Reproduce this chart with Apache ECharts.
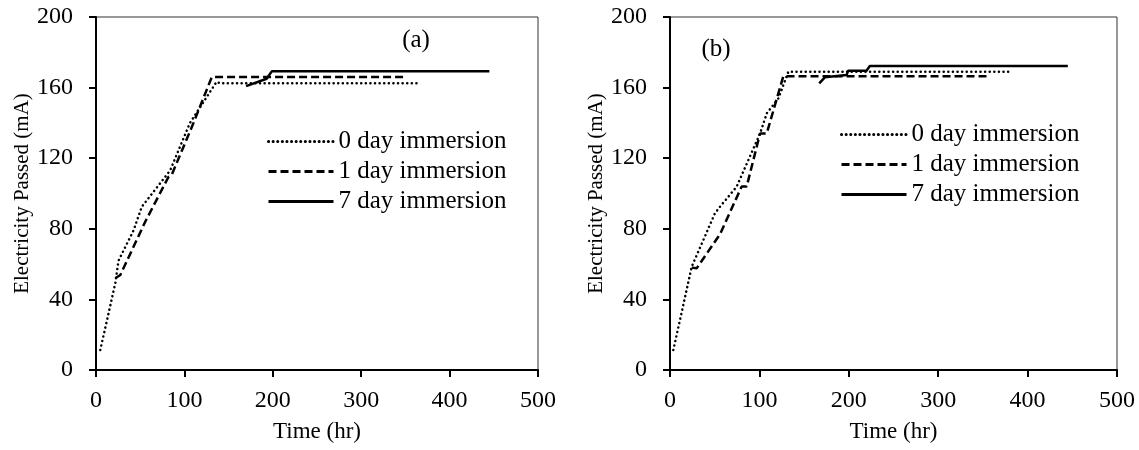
<!DOCTYPE html>
<html>
<head>
<meta charset="utf-8">
<script src="https://cdn.jsdelivr.net/npm/echarts@6/dist/echarts.min.js"></script>
<style>
  html, body { margin: 0; padding: 0; background: #fff; }
  #main { width: 1139px; height: 450px; }
</style>
</head>
<body>
<div id="main"></div>
<script>
// series names
const names = ["0 day immersion", "1 day immersion", "7 day immersion"];
// panel (a): [time (hr), electricity passed (mA)]
const aDay0 = [[4.8, 11.3], [21.8, 49], [25.5, 62], [42.4, 79], [51.8, 92.5], [83.8, 113], [106.3, 140], [136.4, 163.3], [140, 162.5], [366, 162.5]];
const aDay1 = [[21.8, 52], [27.5, 53.8], [55.7, 84], [82, 109.4], [86, 111], [110, 139.6], [131, 166], [351, 166]];
const aDay7 = [[169.8, 160.8], [193, 165], [198.8, 169.2], [445, 169.2]];
// panel (b)
const bDay0 = [[3.7, 11.3], [24.3, 58.5], [50.3, 88.8], [55.9, 92.5], [74.6, 103.9], [100.7, 134], [108.2, 145.4], [121.2, 153.9], [132.4, 169], [382, 169]];
const bDay1 = [[24.3, 58], [29.8, 57.6], [54, 75.5], [56, 77], [80.2, 104], [85.8, 104], [100.7, 134], [108.2, 134], [126.8, 166.5], [354, 166.5]];
const bDay7 = [[166.9, 162.4], [173.2, 165.8], [197.5, 167.1], [199.3, 169.6], [219.8, 169.6], [223.5, 172.2], [445, 172.2]];

const font = "Liberation Serif";
const styles = [
  { color: "#000", width: 2.5, type: [0.1, 4.5], cap: "round" },
  { color: "#000", width: 2.5, type: [8, 4] },
  { color: "#000", width: 2.5, type: "solid" },
];

function xAx(i) {
  return {
    type: "value", gridIndex: i, min: 0, max: 500, interval: 100,
    name: "Time (hr)", nameLocation: "middle", nameGap: 50,
    nameTextStyle: { fontFamily: font, fontSize: 23, color: "#000" },
    axisLine: { lineStyle: { color: "#000", width: 2 } },
    axisTick: { length: 7, lineStyle: { color: "#000", width: 2 } },
    axisLabel: { fontFamily: font, fontSize: 24, color: "#000", margin: 19 },
    splitLine: { show: false },
  };
}
function yAx(i) {
  return {
    type: "value", gridIndex: i, min: 0, max: 200, interval: 40,
    name: "Electricity Passed (mA)", nameLocation: "middle", nameGap: 62,
    nameTextStyle: { fontFamily: font, fontSize: 21, color: "#000" },
    axisLine: { lineStyle: { color: "#000", width: 2 } },
    axisTick: { length: 7, lineStyle: { color: "#000", width: 2 } },
    axisLabel: { fontFamily: font, fontSize: 24, color: "#000", margin: 23 },
    splitLine: { show: false },
  };
}
function line(name, data, k, i) {
  return {
    name: name, type: "line", xAxisIndex: i, yAxisIndex: i,
    data: data, symbol: "none", lineStyle: styles[k], itemStyle: { color: "#000" },
    animation: false,
  };
}
function legend(left, top) {
  return {
    data: names, orient: "vertical", left: left, top: top,
    itemWidth: 65, itemHeight: 14, itemGap: 5,
    textStyle: { fontFamily: font, fontSize: 25, color: "#000" },
    itemStyle: { opacity: 0 },
    lineStyle: { width: 3, inactiveColor: "#000" },
  };
}

var chart = echarts.init(document.getElementById("main"));
const option = {
  backgroundColor: "#fff",
  animation: false,
  grid: [
    { left: 96, top: 17, width: 442, height: 353, show: true, borderColor: "#333", borderWidth: 1 },
    { left: 670, top: 17, width: 447, height: 353, show: true, borderColor: "#333", borderWidth: 1 },
  ],
  xAxis: [xAx(0), xAx(1)],
  yAxis: [yAx(0), yAx(1)],
  legend: [legend(262, 124), legend(835, 117)],
  graphic: [
    { type: "text", x: 416, y: 40, style: { text: "(a)", font: "25px " + font, fill: "#000", align: "center", verticalAlign: "middle" } },
    { type: "text", x: 716, y: 49, style: { text: "(b)", font: "25px " + font, fill: "#000", align: "center", verticalAlign: "middle" } },
  ],
  series: [
    line(names[0], aDay0, 0, 0),
    line(names[1], aDay1, 1, 0),
    line(names[2], aDay7, 2, 0),
    line(names[0], bDay0, 0, 1),
    line(names[1], bDay1, 1, 1),
    line(names[2], bDay7, 2, 1),
  ],
};
option && chart.setOption(option);
</script>
</body>
</html>
